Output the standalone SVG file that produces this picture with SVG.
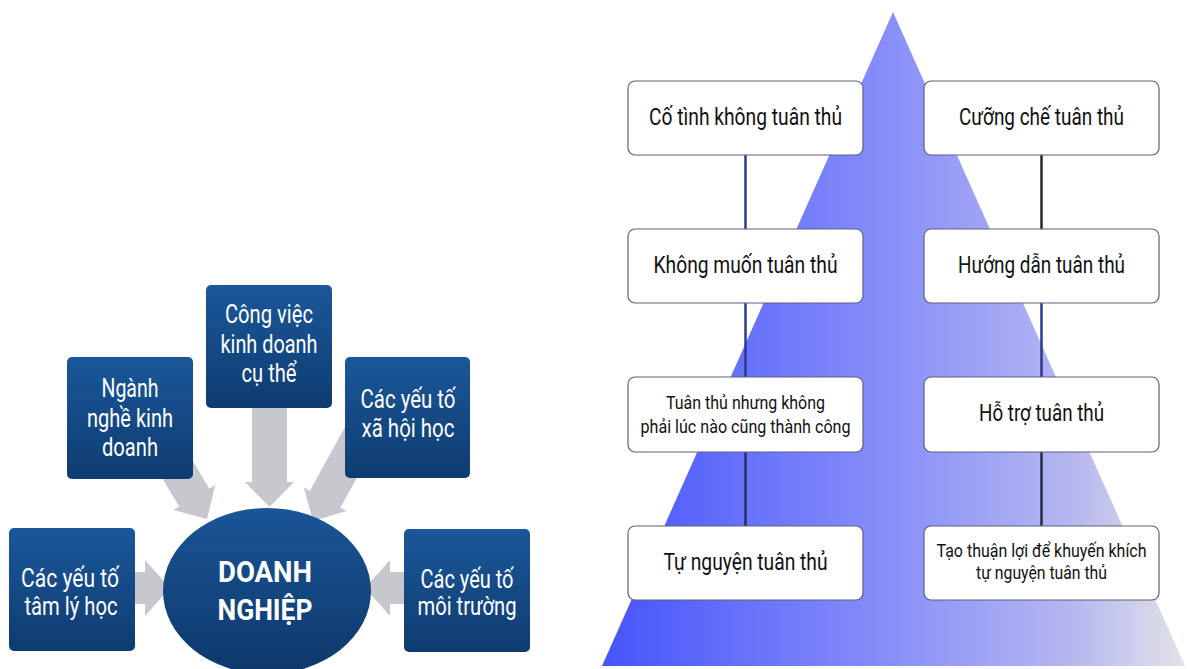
<svg xmlns="http://www.w3.org/2000/svg" width="1188" height="669" viewBox="0 0 1188 669">
<defs>
<linearGradient id="boxGrad" x1="0" y1="0" x2="0" y2="1">
<stop offset="0" stop-color="#1b5799"/>
<stop offset="1" stop-color="#0e3c71"/>
</linearGradient>
<linearGradient id="ellGrad" x1="0" y1="0" x2="0" y2="1">
<stop offset="0" stop-color="#1a5596"/>
<stop offset="1" stop-color="#0d386b"/>
</linearGradient>
<linearGradient id="pyrGrad" gradientUnits="userSpaceOnUse" x1="602" y1="0" x2="1185" y2="0">
<stop offset="0" stop-color="#4654fb"/>
<stop offset="0.5" stop-color="#8990f9"/>
<stop offset="0.8" stop-color="#b4b6f0"/>
<stop offset="1" stop-color="#e2e2e8"/>
</linearGradient>
<style>
.blue{fill:url(#boxGrad)}
.arrow{fill:#c7c8ce}
.wt{font-family:Roboto,"Liberation Sans",sans-serif;font-size:25px;fill:#ffffff;text-anchor:middle}
.big{font-family:Roboto,"Liberation Sans",sans-serif;font-size:29px;font-weight:bold;fill:#ffffff;text-anchor:middle}
.wbox{fill:#ffffff;stroke:#5c6082;stroke-width:1.2}
.bt{font-family:Roboto,"Liberation Sans",sans-serif;font-size:23px;fill:#111111;text-anchor:middle}
.st{font-family:Roboto,"Liberation Sans",sans-serif;font-size:17.5px;fill:#111111;text-anchor:middle}
.ln{stroke-width:2.5;fill:none}
</style>
</defs>
<rect width="1188" height="669" fill="#ffffff"/>

<!-- Left diagram connectors (arrows) -->
<g id="arrows">
<polygon class="arrow" points="-120,-17.5 -25,-17.5 -25,-24.5 0,0 -25,24.5 -25,17.5 -120,17.5" transform="translate(269.5,507) rotate(90)"/>
<polygon class="arrow" points="-130,-17.5 -25,-17.5 -25,-24.5 0,0 -25,24.5 -25,17.5 -130,17.5" transform="translate(207,519) rotate(59.2)"/>
<polygon class="arrow" points="-130,-17.5 -25,-17.5 -25,-24.5 0,0 -25,24.5 -25,17.5 -130,17.5" transform="translate(313,521) rotate(119)"/>
<polygon class="arrow" points="-50,-16 -25,-16 -25,-28 0,0 -25,28 -25,16 -50,16" transform="translate(170,588)"/>
<polygon class="arrow" points="-50,-16 -25,-16 -25,-28 0,0 -25,28 -25,16 -50,16" transform="translate(365,588) rotate(180)"/>
</g>

<g id="node-nganh">
<rect class="blue" x="67" y="357" width="126" height="122" rx="5"/>
<text class="wt" x="130" y="397" textLength="57" lengthAdjust="spacingAndGlyphs">Ngành</text>
<text class="wt" x="130" y="427" textLength="86" lengthAdjust="spacingAndGlyphs">nghề kinh</text>
<text class="wt" x="130" y="456" textLength="56" lengthAdjust="spacingAndGlyphs">doanh</text>
</g>
<g id="node-congviec">
<rect class="blue" x="206" y="285" width="126" height="123" rx="5"/>
<text class="wt" x="269" y="323" textLength="88" lengthAdjust="spacingAndGlyphs">Công việc</text>
<text class="wt" x="269" y="353" textLength="97" lengthAdjust="spacingAndGlyphs">kinh doanh</text>
<text class="wt" x="269" y="382" textLength="55" lengthAdjust="spacingAndGlyphs">cụ thể</text>
</g>
<g id="node-xahoi">
<rect class="blue" x="345" y="357" width="125" height="121" rx="5"/>
<text class="wt" x="408" y="408" textLength="95" lengthAdjust="spacingAndGlyphs">Các yếu tố</text>
<text class="wt" x="408" y="437" textLength="93" lengthAdjust="spacingAndGlyphs">xã hội học</text>
</g>
<g id="node-tamly">
<rect class="blue" x="9" y="528" width="126" height="123" rx="5"/>
<text class="wt" x="70" y="587" textLength="98" lengthAdjust="spacingAndGlyphs">Các yếu tố</text>
<text class="wt" x="71" y="615" textLength="93" lengthAdjust="spacingAndGlyphs">tâm lý học</text>
</g>
<g id="node-moitruong">
<rect class="blue" x="404" y="529" width="126" height="123" rx="5"/>
<text class="wt" x="467" y="588" textLength="93" lengthAdjust="spacingAndGlyphs">Các yếu tố</text>
<text class="wt" x="467" y="615" textLength="99" lengthAdjust="spacingAndGlyphs">môi trường</text>
</g>
<g id="node-doanhnghiep">
<ellipse cx="267" cy="591" rx="104" ry="83" fill="url(#ellGrad)"/>
<text class="big" x="265" y="582" textLength="94" lengthAdjust="spacingAndGlyphs">DOANH</text>
<text class="big" x="265" y="620" textLength="95" lengthAdjust="spacingAndGlyphs">NGHIỆP</text>
</g>

<!-- Right diagram -->
<g id="pyramid">
<polygon points="893,12 602,666 1185,666" fill="url(#pyrGrad)"/>
</g>

<g id="connectors">
<line class="ln" x1="745.5" y1="155" x2="745.5" y2="229" stroke="#2e3a8c"/>
<line class="ln" x1="745.5" y1="303" x2="745.5" y2="377" stroke="#2e3a8c"/>
<line class="ln" x1="745.5" y1="452" x2="745.5" y2="526" stroke="#2a2f60"/>
<line class="ln" x1="1041.5" y1="155" x2="1041.5" y2="229" stroke="#262630"/>
<line class="ln" x1="1041.5" y1="303" x2="1041.5" y2="377" stroke="#2e3a8c"/>
<line class="ln" x1="1041.5" y1="452" x2="1041.5" y2="526" stroke="#262a40"/>
</g>

<g id="node-cotinh">
<rect class="wbox" x="628" y="81" width="235" height="74" rx="7"/>
<text class="bt" x="745.5" y="125" textLength="193" lengthAdjust="spacingAndGlyphs">Cố tình không tuân thủ</text>
</g>
<g id="node-khongmuon">
<rect class="wbox" x="628" y="229" width="235" height="74" rx="7"/>
<text class="bt" x="745.5" y="273" textLength="184" lengthAdjust="spacingAndGlyphs">Không muốn tuân thủ</text>
</g>
<g id="node-tuanthunhung">
<rect class="wbox" x="628" y="377" width="235" height="75" rx="7"/>
<text class="st" x="745.5" y="409" textLength="159" lengthAdjust="spacingAndGlyphs">Tuân thủ nhưng không</text>
<text class="st" x="745.5" y="433" textLength="210" lengthAdjust="spacingAndGlyphs">phải lúc nào cũng thành công</text>
</g>
<g id="node-tunguyen">
<rect class="wbox" x="628" y="526" width="235" height="74" rx="7"/>
<text class="bt" x="745.5" y="570" textLength="164" lengthAdjust="spacingAndGlyphs">Tự nguyện tuân thủ</text>
</g>
<g id="node-cuongche">
<rect class="wbox" x="924" y="81" width="235" height="74" rx="7"/>
<text class="bt" x="1041.5" y="125" textLength="165" lengthAdjust="spacingAndGlyphs">Cưỡng chế tuân thủ</text>
</g>
<g id="node-huongdan">
<rect class="wbox" x="924" y="229" width="235" height="74" rx="7"/>
<text class="bt" x="1041.5" y="273" textLength="167" lengthAdjust="spacingAndGlyphs">Hướng dẫn tuân thủ</text>
</g>
<g id="node-hotro">
<rect class="wbox" x="924" y="377" width="235" height="75" rx="7"/>
<text class="bt" x="1041.5" y="421" textLength="125" lengthAdjust="spacingAndGlyphs">Hỗ trợ tuân thủ</text>
</g>
<g id="node-taothuanloi">
<rect class="wbox" x="924" y="526" width="235" height="74" rx="7"/>
<text class="st" x="1041.5" y="557" textLength="210" lengthAdjust="spacingAndGlyphs">Tạo thuận lợi để khuyến khích</text>
<text class="st" x="1041.5" y="579" textLength="131" lengthAdjust="spacingAndGlyphs">tự nguyện tuân thủ</text>
</g>
</svg>
